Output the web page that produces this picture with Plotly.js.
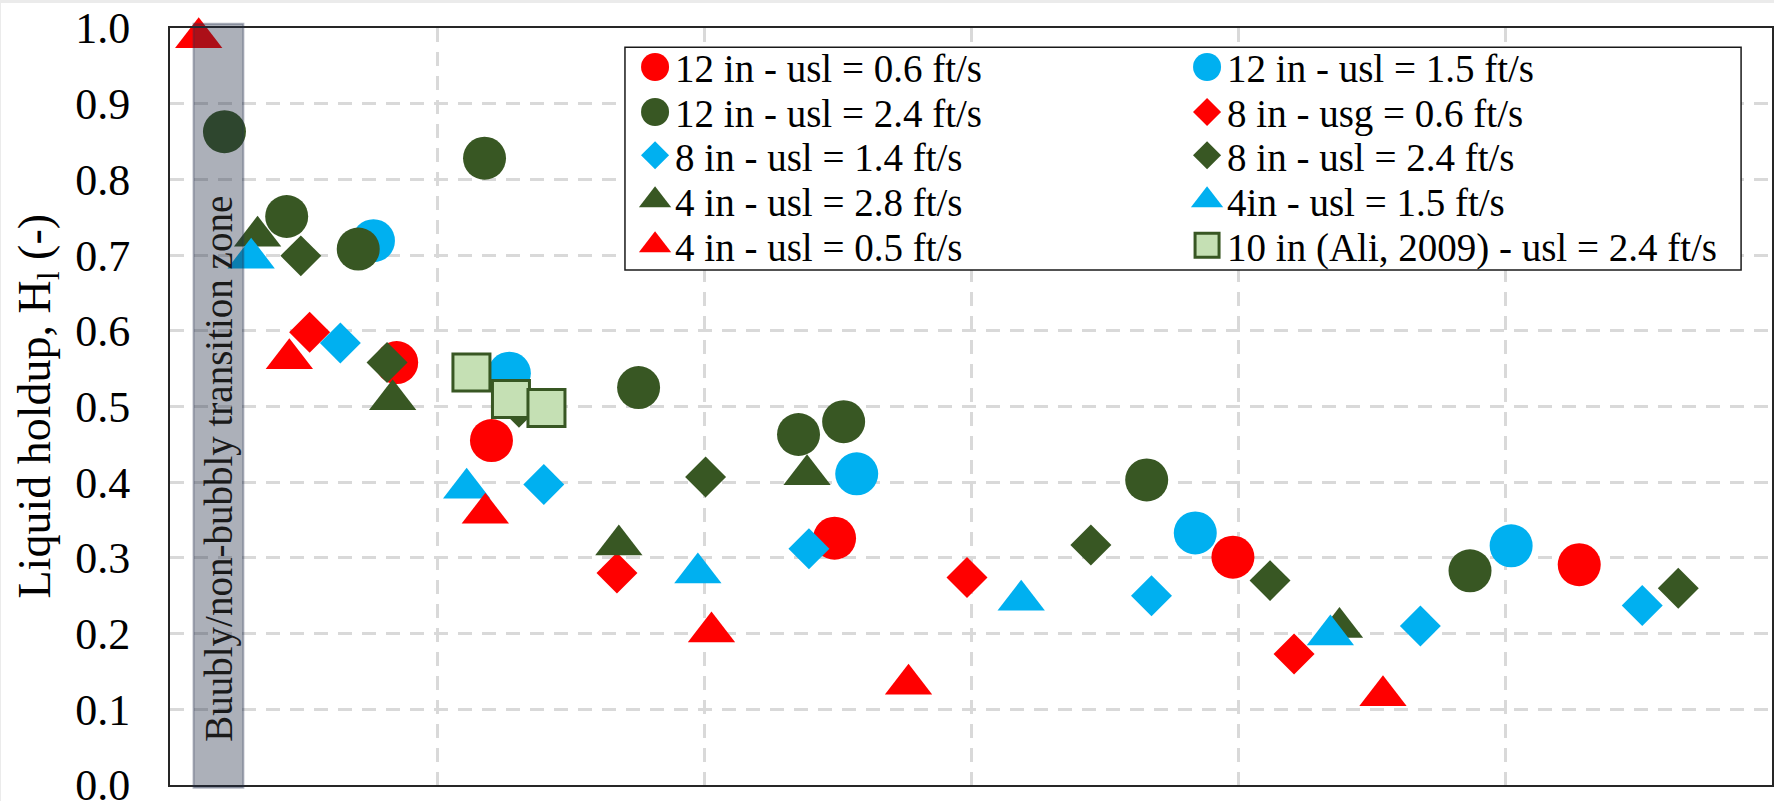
<!DOCTYPE html>
<html>
<head>
<meta charset="utf-8">
<script src="https://cdn.plot.ly/plotly-3.0.1.min.js"></script>
<style>
  html, body { margin: 0; padding: 0; background: #ebebeb; overflow: hidden; }
  #chart { position: absolute; left: 1px; top: 3px; width: 1773px; height: 798px; background: #ffffff; }
</style>
</head>
<body>
<div id="chart"></div>
<script>
// ---- Data ----
const seriesNames = [
  "12 in - usl = 0.6 ft/s",
  "12 in - usl = 1.5 ft/s",
  "12 in - usl = 2.4 ft/s",
  "8 in - usg = 0.6 ft/s",
  "8 in - usl = 1.4 ft/s",
  "8 in - usl = 2.4 ft/s",
  "4 in - usl = 2.8 ft/s",
  "4in - usl = 1.5 ft/s",
  "4 in - usl = 0.5 ft/s",
  "10 in (Ali, 2009) - usl = 2.4 ft/s"
];

const x12in06 = [0.849, 1.204, 2.489, 3.981, 5.278];
const y12in06 = [0.558, 0.455, 0.326, 0.301, 0.291];

const x12in15 = [0.762, 1.271, 2.572, 3.840, 5.023];
const y12in15 = [0.719, 0.544, 0.411, 0.333, 0.316];

const x12in24 = [0.204, 0.437, 0.705, 1.178, 1.755, 2.354, 2.523, 3.658, 4.869];
const y12in24 = [0.863, 0.751, 0.708, 0.828, 0.525, 0.463, 0.480, 0.403, 0.283];

const x8inUsg06 = [0.523, 1.674, 2.985, 4.210];
const y8inUsg06 = [0.598, 0.280, 0.274, 0.173];

const x8in14 = [0.638, 1.400, 2.393, 3.676, 4.683, 5.514];
const y8in14 = [0.584, 0.397, 0.312, 0.250, 0.210, 0.237];

const x8in24 = [0.490, 0.813, 1.307, 2.006, 3.449, 4.120, 5.649];
const y8in24 = [0.699, 0.558, 0.499, 0.407, 0.317, 0.270, 0.260];

const x4in28 = [0.328, 0.834, 1.681, 2.386, 4.380];
const y4in28 = [0.725, 0.509, 0.317, 0.410, 0.208];

const x4in15 = [0.304, 1.111, 1.977, 3.188, 4.346];
const y4in15 = [0.696, 0.392, 0.280, 0.244, 0.198];

const x4in05 = [0.1075, 0.447, 1.181, 2.028, 2.766, 4.543];
const y4in05 = [0.987, 0.563, 0.359, 0.202, 0.133, 0.118];

const x10inAli = [1.129, 1.277, 1.410];
const y10inAli = [0.545, 0.510, 0.498];

const yTickValues = [0.0, 0.1, 0.2, 0.3, 0.4, 0.5, 0.6, 0.7, 0.8, 0.9, 1.0];
const yTickLabels = ["0.0", "0.1", "0.2", "0.3", "0.4", "0.5", "0.6", "0.7", "0.8", "0.9", "1.0"];

const yAxisTitle = "Liquid holdup, H<sub>l</sub> (-)";
const zoneLabel = "Buubly/non-bubbly transition zone";

// ---- Styling ----
const RED = "#ff0000", BLUE = "#00b0f0", DKGREEN = "#385723", LTGREEN = "#c5e0b4";
const FONT = "Liberation Serif, 'Times New Roman', Times, serif";

const xs = [x12in06, x12in15, x12in24, x8inUsg06, x8in14, x8in24, x4in28, x4in15, x4in05, x10inAli];
const ys = [y12in06, y12in15, y12in24, y8inUsg06, y8in14, y8in24, y4in28, y4in15, y4in05, y10inAli];
const colors = [RED, BLUE, DKGREEN, RED, BLUE, DKGREEN, DKGREEN, BLUE, RED, LTGREEN];
const symbols = ["circle", "circle", "circle", "diamond", "diamond", "diamond",
                 "triangle-up", "triangle-up", "triangle-up", "square"];
const sizes = [43, 43, 43, 31.5, 31.5, 31.5, 41, 41, 41, 37];
const legendIds = ["legend", "legend", "legend2", "legend2", "legend3", "legend3",
                   "legend4", "legend4", "legend5", "legend5"];

const traces = seriesNames.map((name, i) => ({
  type: "scatter",
  mode: "markers",
  name: name,
  x: xs[i],
  y: ys[i],
  cliponaxis: false,
  legend: legendIds[i],
  marker: {
    symbol: symbols[i],
    size: sizes[i],
    color: colors[i],
    line: symbols[i] === "square" ? { color: DKGREEN, width: 3 } : { width: 0 }
  },
  hoverinfo: "x+y+name"
}));

// legend rows (one Plotly legend per row, two entries each)
const rowCentersPx = [70, 115, 158.3, 203.3, 248.3];
const plotTopPx = 28, plotH = 757;
function legendCfg(rowY) {
  const topPx = rowY - 34.85;
  return {
    orientation: "h",
    x: 0.2903,
    xanchor: "left",
    y: 1 - (topPx - plotTopPx) / plotH,
    yanchor: "top",
    bgcolor: "rgba(0,0,0,0)",
    borderwidth: 0,
    entrywidth: 507,
    entrywidthmode: "pixels",
    traceorder: "normal",
    font: { family: FONT, size: 39, color: "#000000" }
  };
}

const gridStyle = {
  showgrid: true,
  gridcolor: "#d9d9d9",
  gridwidth: 2.5,
  griddash: "14px,10px",
  zeroline: false,
  showline: true,
  mirror: true,
  linecolor: "#262626",
  linewidth: 2
};

const layout = {
  width: 1773,
  height: 798,
  margin: { l: 169, r: 2, t: 25, b: 16 },
  paper_bgcolor: "#ffffff",
  plot_bgcolor: "#ffffff",
  showlegend: true,
  legend: legendCfg(rowCentersPx[0]),
  legend2: legendCfg(rowCentersPx[1]),
  legend3: legendCfg(rowCentersPx[2]),
  legend4: legendCfg(rowCentersPx[3]),
  legend5: legendCfg(rowCentersPx[4]),
  xaxis: Object.assign({
    range: [0, 6],
    tick0: 0,
    dtick: 1,
    showticklabels: false,
    ticks: ""
  }, gridStyle),
  yaxis: Object.assign({
    range: [0, 1],
    tickmode: "array",
    tickvals: yTickValues,
    ticktext: yTickLabels,
    ticks: "",
    ticklabelstandoff: 29,
    ticklabeloverflow: "allow",
    tickfont: { family: FONT, size: 44, color: "#000000" }
  }, gridStyle),
  shapes: [
    { // transition zone band
      type: "rect", xref: "paper", yref: "paper",
      x0: 0.0147, x1: 0.0458, y0: -0.0036, y1: 1.0057,
      fillcolor: "rgba(30,42,66,0.37)",
      line: { color: "rgba(40,52,80,0.35)", width: 2 },
      layer: "above"
    },
    { // legend frame
      type: "rect", xref: "paper", yref: "paper",
      x0: 0.2840, x1: 0.9807, y0: 0.6803, y1: 0.9745,
      fillcolor: "#ffffff",
      line: { color: "#1a1a1a", width: 1.5 },
      layer: "above"
    }
  ],
  annotations: [
    {
      text: zoneLabel,
      xref: "x", yref: "y", x: 0.183, y: 0.4176,
      xanchor: "center", yanchor: "middle",
      textangle: -90, showarrow: false,
      font: { family: FONT, size: 39, color: "#1a1a1a" }
    },
    {
      text: yAxisTitle,
      xref: "paper", yref: "paper", x: 0, y: 0.5,
      xshift: -133,
      xanchor: "center", yanchor: "middle",
      textangle: -90, showarrow: false,
      font: { family: FONT, size: 46, color: "#000000" }
    }
  ]
};

// Enlarge legend symbols (Plotly caps legend marker size at 16px)
const legendScale = { "circle": 1.75, "diamond": 1.35, "triangle-up": 1.75, "square": 1.5 };
function enlargeLegendSymbols() {
  document.querySelectorAll("#chart .infolayer g.traces").forEach(tr => {
    const d = tr.__data__;
    if (!d || !d[0] || !d[0].trace) return;
    const sym = d[0].trace.marker.symbol;
    const k = legendScale[sym] || 1.5;
    tr.querySelectorAll(".legendpoints path.scatterpts").forEach(p => {
      const t = p.getAttribute("transform") || "";
      if (t.indexOf("scale") === -1) p.setAttribute("transform", t + " scale(" + k + ")");
      if (sym === "square") p.style.strokeWidth = "2px";
    });
  });
}

Plotly.newPlot("chart", traces, layout, { displayModeBar: false, responsive: false })
  .then(enlargeLegendSymbols);
</script>
</body>
</html>
